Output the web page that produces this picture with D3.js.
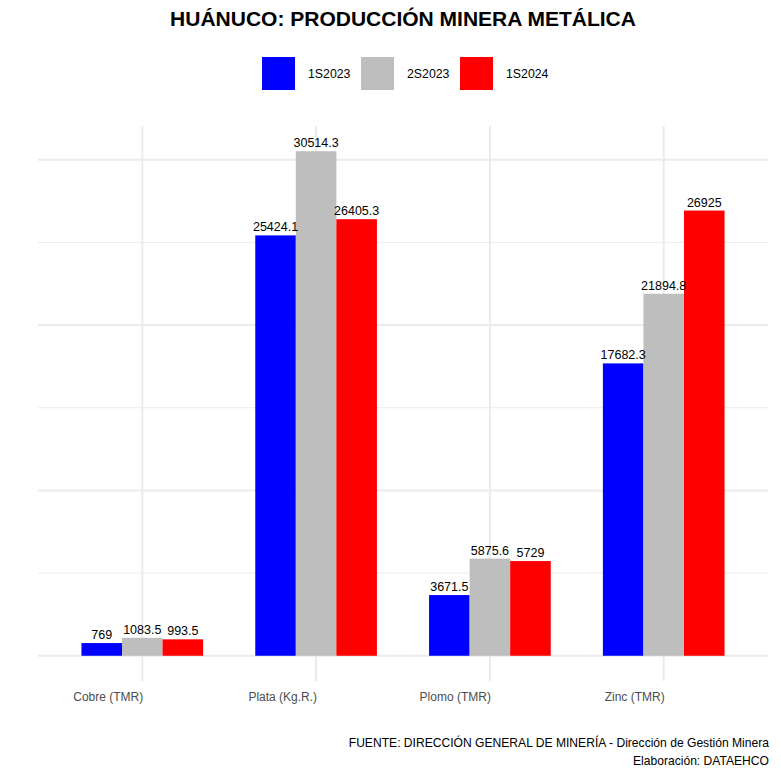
<!DOCTYPE html>
<html>
<head>
<meta charset="utf-8">
<script src="https://cdn.jsdelivr.net/npm/d3@7"></script>
<style>
  html, body { margin: 0; padding: 0; background: #fff; }
  text { font-family: "Liberation Sans", Arial, sans-serif; }
</style>
</head>
<body>
<div id="chart"></div>
<script>
// Huánuco metal production by semester
const categories = ["Cobre (TMR)", "Plata (Kg.R.)", "Plomo (TMR)", "Zinc (TMR)"];
const periods = ["1S2023", "2S2023", "1S2024"];
const values1S2023 = [769, 25424.1, 3671.5, 17682.3];
const values2S2023 = [1083.5, 30514.3, 5875.6, 21894.8];
const values1S2024 = [993.5, 26405.3, 5729, 26925];
const colors = ["#0000FF", "#BEBEBE", "#FF0000"];
const majorTicks = [0, 10000, 20000, 30000];
const minorTicks = [5000, 15000, 25000];

const seriesValues = [values1S2023, values2S2023, values1S2024];
const rows = [];
categories.forEach((c, i) => {
  periods.forEach((p, j) => rows.push({ cat: c, period: p, value: seriesValues[j][i] }));
});

const width = 781, height = 781;
const panel = { left: 38, right: 768, top: 126, bottom: 681 };

const svg = d3.select("#chart").append("svg")
  .attr("width", width)
  .attr("height", height);

// --- scales (ggplot-like expansion) ---
const maxVal = d3.max(rows, d => d.value);
const y = d3.scaleLinear()
  .domain([-0.05 * maxVal, maxVal * 1.05])
  .range([panel.bottom, panel.top]);

// discrete expansion of 0.6 units on each side
const step = (panel.right - panel.left) / (categories.length - 1 + 1.2);
const x = d3.scalePoint()
  .domain(categories)
  .range([panel.left + step * 0.6, panel.right - step * 0.6]);

const dodge = d3.scaleBand()
  .domain(periods)
  .range([-step * 0.35, step * 0.35]);

const color = d3.scaleOrdinal().domain(periods).range(colors);

// --- gridlines ---
const grid = svg.append("g");
grid.selectAll("line.minor")
  .data(minorTicks)
  .join("line")
  .attr("x1", panel.left).attr("x2", panel.right)
  .attr("y1", d => y(d)).attr("y2", d => y(d))
  .attr("stroke", "#EBEBEB").attr("stroke-width", 1);
grid.selectAll("line.major")
  .data(majorTicks)
  .join("line")
  .attr("x1", panel.left).attr("x2", panel.right)
  .attr("y1", d => y(d)).attr("y2", d => y(d))
  .attr("stroke", "#EBEBEB").attr("stroke-width", 2);
grid.selectAll("line.vert")
  .data(categories)
  .join("line")
  .attr("x1", d => x(d)).attr("x2", d => x(d))
  .attr("y1", panel.top).attr("y2", panel.bottom)
  .attr("stroke", "#EBEBEB").attr("stroke-width", 2);

// --- bars ---
svg.append("g").selectAll("rect")
  .data(rows)
  .join("rect")
  .attr("x", d => x(d.cat) + dodge(d.period))
  .attr("width", dodge.bandwidth())
  .attr("y", d => y(d.value))
  .attr("height", d => y(0) - y(d.value))
  .attr("fill", d => color(d.period));

// --- value labels ---
svg.append("g").selectAll("text")
  .data(rows)
  .join("text")
  .attr("x", d => x(d.cat) + dodge(d.period) + dodge.bandwidth() / 2)
  .attr("y", d => y(d.value) - 4)
  .attr("text-anchor", "middle")
  .attr("font-size", 12.5)
  .attr("fill", "#000")
  .text(d => d.value);

// --- x axis labels (right aligned at category centre) ---
svg.append("g").selectAll("text")
  .data(categories)
  .join("text")
  .attr("x", d => x(d) + 1)
  .attr("y", 701)
  .attr("text-anchor", "end")
  .attr("font-size", 12)
  .attr("fill", "#4D4D4D")
  .text(d => d);

// --- title ---
svg.append("text")
  .attr("x", (panel.left + panel.right) / 2)
  .attr("y", 26)
  .attr("text-anchor", "middle")
  .attr("font-size", 21)
  .attr("font-weight", "bold")
  .attr("fill", "#000")
  .text("HUÁNUCO: PRODUCCIÓN MINERA METÁLICA");

// --- legend ---
const legendX = [262, 361, 460];
const legend = svg.append("g").selectAll("g")
  .data(periods)
  .join("g")
  .attr("transform", (d, i) => `translate(${legendX[i]},57)`);
legend.append("rect")
  .attr("width", 33).attr("height", 33)
  .attr("fill", d => color(d));
legend.append("text")
  .attr("x", 46).attr("y", 21)
  .attr("font-size", 12.3)
  .attr("fill", "#000")
  .text(d => d);

// --- caption ---
svg.append("text")
  .attr("x", 769).attr("y", 747)
  .attr("text-anchor", "end")
  .attr("font-size", 12.1)
  .text("FUENTE: DIRECCIÓN GENERAL DE MINERÍA - Dirección de Gestión Minera");
svg.append("text")
  .attr("x", 769).attr("y", 765)
  .attr("text-anchor", "end")
  .attr("font-size", 12.1)
  .text("Elaboración: DATAEHCO");
</script>
</body>
</html>
